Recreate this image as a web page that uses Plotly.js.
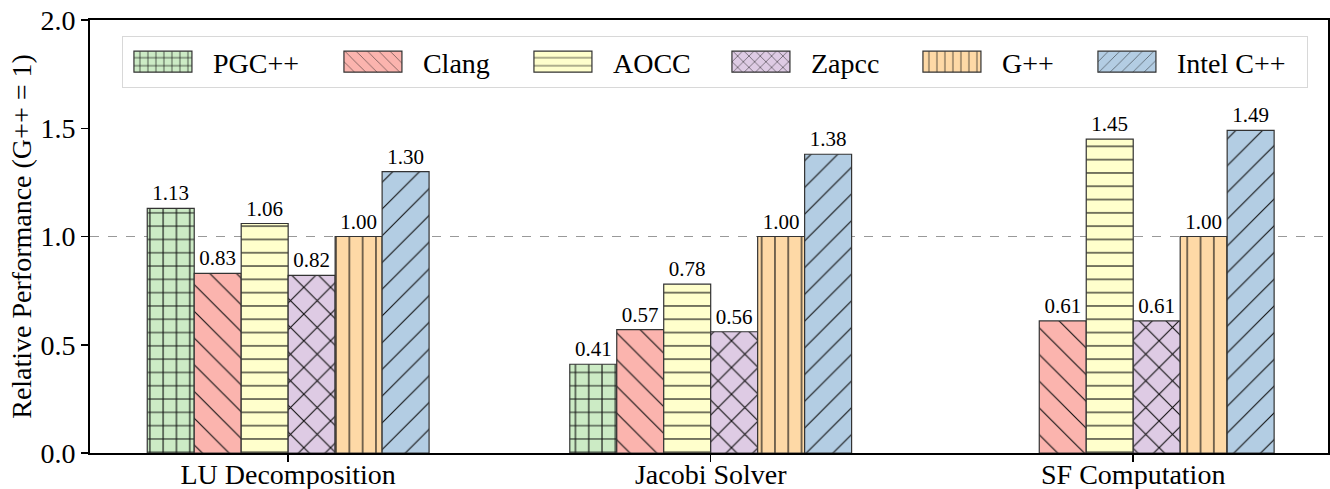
<!DOCTYPE html>
<html>
<head>
<meta charset="utf-8">
<script src="https://cdn.plot.ly/plotly-3.0.1.min.js"></script>
<style>
html, body { margin: 0; padding: 0; background: #fff; }
#chart { width: 1330px; height: 489px; }
</style>
</head>
<body>
<div id="chart"></div>
<script>
// ---- data ----
var categories = ["LU Decomposition", "Jacobi Solver", "SF Computation"];
var compilers = ["PGC++", "Clang", "AOCC", "Zapcc", "G++", "Intel C++"];
var pgcValues   = [1.13, 0.41, null];
var clangValues = [0.83, 0.57, 0.61];
var aoccValues  = [1.06, 0.78, 1.45];
var zapccValues = [0.82, 0.56, 0.61];
var gppValues   = [1.00, 1.00, 1.00];
var intelValues = [1.30, 1.38, 1.49];
var yTickVals = [0, 0.5, 1.0, 1.5, 2.0];
var baselineValue = 1.0;

// ---- styles ----
var FONT = 'Liberation Serif, Times New Roman, Times, serif';
var series = [pgcValues, clangValues, aoccValues, zapccValues, gppValues, intelValues];
var fills = ["#ccebc5", "#fbb4ae", "#ffffcc", "#decbe4", "#fed9a6", "#b3cde3"];
var shapes = ["+", "\\", "-", "x", "|", "/"];
var psizes = [13.3, 18.9, 13.3, 18.9, 13.3, 18.9];
var psolid = [0.16, 0.06, 0.085, 0.115, 0.085, 0.06];
var legendWidths = [115, 95, 103, 96, 80, 125];

var traces = series.map(function (vals, i) {
  return {
    type: "bar",
    name: compilers[i],
    x: categories,
    y: vals,
    marker: {
      color: fills[i],
      line: { color: "#333333", width: 1.2 },
      pattern: {
        shape: shapes[i], size: psizes[i], solidity: psolid[i],
        fgcolor: "#111", fgopacity: 1, bgcolor: fills[i], fillmode: "overlay"
      }
    },
    text: vals.map(function (v) { return v === null ? "" : v.toFixed(2); }),
    textposition: "outside",
    textfont: { family: FONT, size: 21, color: "#000" },
    constraintext: "none",
    cliponaxis: false,
    legendwidth: legendWidths[i],
    hoverinfo: "x+y+name"
  };
});

var layout = {
  width: 1330,
  height: 489,
  margin: { l: 90, r: 2, t: 20, b: 36, pad: 0 },
  paper_bgcolor: "#fff",
  plot_bgcolor: "#fff",
  font: { family: FONT, size: 28, color: "#000" },
  barmode: "group",
  bargap: 0.333,
  bargroupgap: 0,
  showlegend: true,
  legend: {
    orientation: "h",
    x: 0.0258, xanchor: "left",
    y: 0.963, yanchor: "top",
    bgcolor: "rgba(255,255,255,0.85)",
    bordercolor: "#d8d8d8",
    borderwidth: 1,
    font: { family: FONT, size: 28, color: "#000" },
    itemwidth: 80,
    valign: "middle",
    traceorder: "normal"
  },
  xaxis: {
    type: "category",
    range: [-0.469, 2.461],
    showgrid: false,
    zeroline: false,
    showline: true,
    linecolor: "#000",
    linewidth: 2,
    mirror: true,
    ticks: "outside",
    ticklen: 7,
    tickwidth: 1.5,
    tickcolor: "#000",
    ticklabelstandoff: -12,
    tickfont: { family: FONT, size: 28, color: "#000" },
    fixedrange: true
  },
  yaxis: {
    range: [0, 2.0],
    tickvals: yTickVals,
    tickformat: ".1f",
    showgrid: false,
    zeroline: false,
    showline: true,
    linecolor: "#000",
    linewidth: 2,
    mirror: true,
    ticks: "outside",
    ticklen: 7,
    tickwidth: 1.5,
    tickcolor: "#000",
    tickfont: { family: FONT, size: 28, color: "#000" },
    title: { text: "Relative Performance (G++ = 1)", font: { family: FONT, size: 28, color: "#000" }, standoff: 1 },
    fixedrange: true
  },
  shapes: [{
    type: "line", xref: "paper", x0: 0, x1: 1, yref: "y", y0: baselineValue, y1: baselineValue,
    line: { color: "#999", width: 1, dash: "dash" }, layer: "below"
  }]
};

function bigSwatches() {
  var gd = document.getElementById("chart");
  var paths = gd.querySelectorAll(".legend .legendpoints path");
  paths.forEach(function (p) {
    p.setAttribute("d", "M24,10.5H-34V-10.5H24Z");
  });
}

Plotly.newPlot("chart", traces, layout, { staticPlot: true, displayModeBar: false }).then(function () {
  bigSwatches();
  setTimeout(bigSwatches, 50);
});
</script>
</body>
</html>
